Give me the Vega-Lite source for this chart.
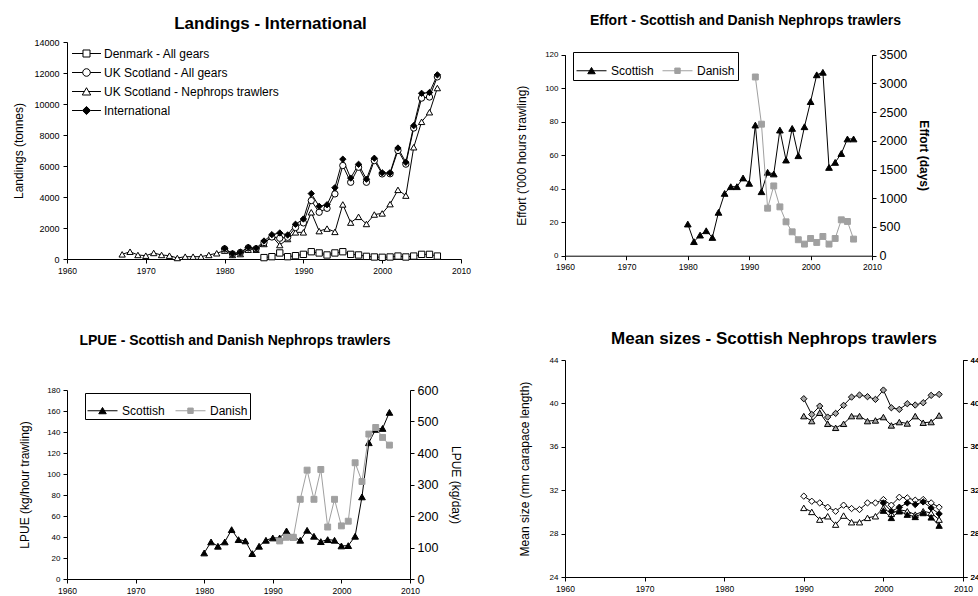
{
  "$schema": "https://vega.github.io/schema/vega-lite/v6.json",
  "background": "white",
  "padding": {"left": 12, "top": 14, "right": 0, "bottom": 0},
  "bounds": "full",
  "align": "none",
  "columns": 2,
  "spacing": 44,
  "resolve": {"scale": {"shape": "independent", "fill": "independent", "stroke": "independent"}, "legend": {"shape": "independent", "fill": "independent", "stroke": "independent"}},
  "config": {
    "font": "Liberation Sans",
    "view": {"stroke": null},
    "axis": {"domainColor": "black", "tickColor": "black", "labelColor": "black", "titleColor": "black", "grid": false, "labelFontSize": 8.5, "titleFontSize": 12, "titleFontWeight": "normal", "tickSize": 4, "labelFont": "Liberation Sans", "titleFont": "Liberation Sans", "domainWidth": 1, "tickWidth": 1, "labelFlush": false},
    "legend": {"labelFontSize": 12, "labelColor": "black", "labelFont": "Liberation Sans", "labelLimit": 300},
    "title": {"color": "black", "font": "Liberation Sans", "fontWeight": "bold", "anchor": "middle", "frame": "group"}
  },
  "datasets": {
    "landings": [
      {"series": "UK Scotland - Nephrops trawlers", "year": 1967, "value": 300},
      {"series": "UK Scotland - Nephrops trawlers", "year": 1968, "value": 470},
      {"series": "UK Scotland - Nephrops trawlers", "year": 1969, "value": 260},
      {"series": "UK Scotland - Nephrops trawlers", "year": 1970, "value": 215},
      {"series": "UK Scotland - Nephrops trawlers", "year": 1971, "value": 390},
      {"series": "UK Scotland - Nephrops trawlers", "year": 1972, "value": 260},
      {"series": "UK Scotland - Nephrops trawlers", "year": 1973, "value": 215},
      {"series": "UK Scotland - Nephrops trawlers", "year": 1974, "value": 65},
      {"series": "UK Scotland - Nephrops trawlers", "year": 1975, "value": 150},
      {"series": "UK Scotland - Nephrops trawlers", "year": 1976, "value": 150},
      {"series": "UK Scotland - Nephrops trawlers", "year": 1977, "value": 150},
      {"series": "UK Scotland - Nephrops trawlers", "year": 1978, "value": 260},
      {"series": "UK Scotland - Nephrops trawlers", "year": 1979, "value": 370},
      {"series": "UK Scotland - Nephrops trawlers", "year": 1980, "value": 540},
      {"series": "UK Scotland - Nephrops trawlers", "year": 1981, "value": 260},
      {"series": "UK Scotland - Nephrops trawlers", "year": 1982, "value": 320},
      {"series": "UK Scotland - Nephrops trawlers", "year": 1983, "value": 600},
      {"series": "UK Scotland - Nephrops trawlers", "year": 1984, "value": 600},
      {"series": "UK Scotland - Nephrops trawlers", "year": 1985, "value": 970},
      {"series": "UK Scotland - Nephrops trawlers", "year": 1986, "value": 1460},
      {"series": "UK Scotland - Nephrops trawlers", "year": 1987, "value": 900},
      {"series": "UK Scotland - Nephrops trawlers", "year": 1988, "value": 1290},
      {"series": "UK Scotland - Nephrops trawlers", "year": 1989, "value": 1720},
      {"series": "UK Scotland - Nephrops trawlers", "year": 1990, "value": 1720},
      {"series": "UK Scotland - Nephrops trawlers", "year": 1991, "value": 3015},
      {"series": "UK Scotland - Nephrops trawlers", "year": 1992, "value": 1800},
      {"series": "UK Scotland - Nephrops trawlers", "year": 1993, "value": 1960},
      {"series": "UK Scotland - Nephrops trawlers", "year": 1994, "value": 1750},
      {"series": "UK Scotland - Nephrops trawlers", "year": 1995, "value": 3520},
      {"series": "UK Scotland - Nephrops trawlers", "year": 1996, "value": 2350},
      {"series": "UK Scotland - Nephrops trawlers", "year": 1997, "value": 2720},
      {"series": "UK Scotland - Nephrops trawlers", "year": 1998, "value": 2260},
      {"series": "UK Scotland - Nephrops trawlers", "year": 1999, "value": 2870},
      {"series": "UK Scotland - Nephrops trawlers", "year": 2000, "value": 2940},
      {"series": "UK Scotland - Nephrops trawlers", "year": 2001, "value": 3540},
      {"series": "UK Scotland - Nephrops trawlers", "year": 2002, "value": 4460},
      {"series": "UK Scotland - Nephrops trawlers", "year": 2003, "value": 4090},
      {"series": "UK Scotland - Nephrops trawlers", "year": 2004, "value": 7210},
      {"series": "UK Scotland - Nephrops trawlers", "year": 2005, "value": 8850},
      {"series": "UK Scotland - Nephrops trawlers", "year": 2006, "value": 9470},
      {"series": "UK Scotland - Nephrops trawlers", "year": 2007, "value": 11030},
      {"series": "Denmark - All gears", "year": 1985, "value": 90},
      {"series": "Denmark - All gears", "year": 1986, "value": 150},
      {"series": "Denmark - All gears", "year": 1987, "value": 390},
      {"series": "Denmark - All gears", "year": 1988, "value": 150},
      {"series": "Denmark - All gears", "year": 1989, "value": 215},
      {"series": "Denmark - All gears", "year": 1990, "value": 300},
      {"series": "Denmark - All gears", "year": 1991, "value": 470},
      {"series": "Denmark - All gears", "year": 1992, "value": 390},
      {"series": "Denmark - All gears", "year": 1993, "value": 260},
      {"series": "Denmark - All gears", "year": 1994, "value": 390},
      {"series": "Denmark - All gears", "year": 1995, "value": 470},
      {"series": "Denmark - All gears", "year": 1996, "value": 300},
      {"series": "Denmark - All gears", "year": 1997, "value": 260},
      {"series": "Denmark - All gears", "year": 1998, "value": 170},
      {"series": "Denmark - All gears", "year": 1999, "value": 130},
      {"series": "Denmark - All gears", "year": 2000, "value": 110},
      {"series": "Denmark - All gears", "year": 2001, "value": 130},
      {"series": "Denmark - All gears", "year": 2002, "value": 190},
      {"series": "Denmark - All gears", "year": 2003, "value": 130},
      {"series": "Denmark - All gears", "year": 2004, "value": 190},
      {"series": "Denmark - All gears", "year": 2005, "value": 300},
      {"series": "Denmark - All gears", "year": 2006, "value": 300},
      {"series": "Denmark - All gears", "year": 2007, "value": 190},
      {"series": "UK Scotland - All gears", "year": 1980, "value": 650},
      {"series": "UK Scotland - All gears", "year": 1981, "value": 330},
      {"series": "UK Scotland - All gears", "year": 1982, "value": 420},
      {"series": "UK Scotland - All gears", "year": 1983, "value": 720},
      {"series": "UK Scotland - All gears", "year": 1984, "value": 660},
      {"series": "UK Scotland - All gears", "year": 1985, "value": 1060},
      {"series": "UK Scotland - All gears", "year": 1986, "value": 1420},
      {"series": "UK Scotland - All gears", "year": 1987, "value": 1340},
      {"series": "UK Scotland - All gears", "year": 1988, "value": 1400},
      {"series": "UK Scotland - All gears", "year": 1989, "value": 2030},
      {"series": "UK Scotland - All gears", "year": 1990, "value": 2330},
      {"series": "UK Scotland - All gears", "year": 1991, "value": 3770},
      {"series": "UK Scotland - All gears", "year": 1992, "value": 3015},
      {"series": "UK Scotland - All gears", "year": 1993, "value": 3270},
      {"series": "UK Scotland - All gears", "year": 1994, "value": 4200},
      {"series": "UK Scotland - All gears", "year": 1995, "value": 6030},
      {"series": "UK Scotland - All gears", "year": 1996, "value": 4950},
      {"series": "UK Scotland - All gears", "year": 1997, "value": 5920},
      {"series": "UK Scotland - All gears", "year": 1998, "value": 4950},
      {"series": "UK Scotland - All gears", "year": 1999, "value": 6350},
      {"series": "UK Scotland - All gears", "year": 2000, "value": 5490},
      {"series": "UK Scotland - All gears", "year": 2001, "value": 5500},
      {"series": "UK Scotland - All gears", "year": 2002, "value": 7000},
      {"series": "UK Scotland - All gears", "year": 2003, "value": 6120},
      {"series": "UK Scotland - All gears", "year": 2004, "value": 8450},
      {"series": "UK Scotland - All gears", "year": 2005, "value": 10380},
      {"series": "UK Scotland - All gears", "year": 2006, "value": 10450},
      {"series": "UK Scotland - All gears", "year": 2007, "value": 11750},
      {"series": "International", "year": 1980, "value": 690},
      {"series": "International", "year": 1981, "value": 340},
      {"series": "International", "year": 1982, "value": 440},
      {"series": "International", "year": 1983, "value": 750},
      {"series": "International", "year": 1984, "value": 690},
      {"series": "International", "year": 1985, "value": 1160},
      {"series": "International", "year": 1986, "value": 1570},
      {"series": "International", "year": 1987, "value": 1680},
      {"series": "International", "year": 1988, "value": 1550},
      {"series": "International", "year": 1989, "value": 2240},
      {"series": "International", "year": 1990, "value": 2580},
      {"series": "International", "year": 1991, "value": 4220},
      {"series": "International", "year": 1992, "value": 3400},
      {"series": "International", "year": 1993, "value": 3500},
      {"series": "International", "year": 1994, "value": 4600},
      {"series": "International", "year": 1995, "value": 6440},
      {"series": "International", "year": 1996, "value": 5220},
      {"series": "International", "year": 1997, "value": 6110},
      {"series": "International", "year": 1998, "value": 5150},
      {"series": "International", "year": 1999, "value": 6500},
      {"series": "International", "year": 2000, "value": 5560},
      {"series": "International", "year": 2001, "value": 5560},
      {"series": "International", "year": 2002, "value": 7160},
      {"series": "International", "year": 2003, "value": 6240},
      {"series": "International", "year": 2004, "value": 8600},
      {"series": "International", "year": 2005, "value": 10690},
      {"series": "International", "year": 2006, "value": 10740},
      {"series": "International", "year": 2007, "value": 11880}
    ],
    "effort_scot": [
      {"series": "Scottish", "year": 1980, "value": 18.9},
      {"series": "Scottish", "year": 1981, "value": 8.4},
      {"series": "Scottish", "year": 1982, "value": 12.3},
      {"series": "Scottish", "year": 1983, "value": 14.9},
      {"series": "Scottish", "year": 1984, "value": 10.9},
      {"series": "Scottish", "year": 1985, "value": 25.9},
      {"series": "Scottish", "year": 1986, "value": 37.2},
      {"series": "Scottish", "year": 1987, "value": 41.2},
      {"series": "Scottish", "year": 1988, "value": 41.2},
      {"series": "Scottish", "year": 1989, "value": 46.4},
      {"series": "Scottish", "year": 1990, "value": 43.2},
      {"series": "Scottish", "year": 1991, "value": 78},
      {"series": "Scottish", "year": 1992, "value": 38.2},
      {"series": "Scottish", "year": 1993, "value": 49.8},
      {"series": "Scottish", "year": 1994, "value": 48.8},
      {"series": "Scottish", "year": 1995, "value": 75},
      {"series": "Scottish", "year": 1996, "value": 57.1},
      {"series": "Scottish", "year": 1997, "value": 76},
      {"series": "Scottish", "year": 1998, "value": 59.7},
      {"series": "Scottish", "year": 1999, "value": 77},
      {"series": "Scottish", "year": 2000, "value": 92},
      {"series": "Scottish", "year": 2001, "value": 108},
      {"series": "Scottish", "year": 2002, "value": 109.5},
      {"series": "Scottish", "year": 2003, "value": 52.7},
      {"series": "Scottish", "year": 2004, "value": 55.7},
      {"series": "Scottish", "year": 2005, "value": 61},
      {"series": "Scottish", "year": 2006, "value": 69.7},
      {"series": "Scottish", "year": 2007, "value": 69.7}
    ],
    "effort_dan": [
      {"series": "Danish", "year": 1991, "value": 3112},
      {"series": "Danish", "year": 1992, "value": 2290},
      {"series": "Danish", "year": 1993, "value": 827},
      {"series": "Danish", "year": 1994, "value": 1215},
      {"series": "Danish", "year": 1995, "value": 850},
      {"series": "Danish", "year": 1996, "value": 590},
      {"series": "Danish", "year": 1997, "value": 416},
      {"series": "Danish", "year": 1998, "value": 278},
      {"series": "Danish", "year": 1999, "value": 202},
      {"series": "Danish", "year": 2000, "value": 300},
      {"series": "Danish", "year": 2001, "value": 231},
      {"series": "Danish", "year": 2002, "value": 335},
      {"series": "Danish", "year": 2003, "value": 202},
      {"series": "Danish", "year": 2004, "value": 300},
      {"series": "Danish", "year": 2005, "value": 625},
      {"series": "Danish", "year": 2006, "value": 596},
      {"series": "Danish", "year": 2007, "value": 289}
    ],
    "lpue_scot": [
      {"series": "Scottish", "year": 1980, "value": 24.8},
      {"series": "Scottish", "year": 1981, "value": 35.3},
      {"series": "Scottish", "year": 1982, "value": 31.2},
      {"series": "Scottish", "year": 1983, "value": 35.3},
      {"series": "Scottish", "year": 1984, "value": 47},
      {"series": "Scottish", "year": 1985, "value": 37.5},
      {"series": "Scottish", "year": 1986, "value": 36.3},
      {"series": "Scottish", "year": 1987, "value": 24.2},
      {"series": "Scottish", "year": 1988, "value": 31.2},
      {"series": "Scottish", "year": 1989, "value": 36.9},
      {"series": "Scottish", "year": 1990, "value": 39.1},
      {"series": "Scottish", "year": 1991, "value": 39.1},
      {"series": "Scottish", "year": 1992, "value": 45.8},
      {"series": "Scottish", "year": 1993, "value": 40},
      {"series": "Scottish", "year": 1994, "value": 36.9},
      {"series": "Scottish", "year": 1995, "value": 46.4},
      {"series": "Scottish", "year": 1996, "value": 40.7},
      {"series": "Scottish", "year": 1997, "value": 35.6},
      {"series": "Scottish", "year": 1998, "value": 37.5},
      {"series": "Scottish", "year": 1999, "value": 36.9},
      {"series": "Scottish", "year": 2000, "value": 31.5},
      {"series": "Scottish", "year": 2001, "value": 31.8},
      {"series": "Scottish", "year": 2002, "value": 40.7},
      {"series": "Scottish", "year": 2003, "value": 78.2},
      {"series": "Scottish", "year": 2004, "value": 129.8},
      {"series": "Scottish", "year": 2005, "value": 142.5},
      {"series": "Scottish", "year": 2006, "value": 143.4},
      {"series": "Scottish", "year": 2007, "value": 158.7}
    ],
    "lpue_dan": [
      {"series": "Danish", "year": 1991, "value": 120.8},
      {"series": "Danish", "year": 1992, "value": 132.5},
      {"series": "Danish", "year": 1993, "value": 132.5},
      {"series": "Danish", "year": 1994, "value": 253},
      {"series": "Danish", "year": 1995, "value": 345.6},
      {"series": "Danish", "year": 1996, "value": 253},
      {"series": "Danish", "year": 1997, "value": 347.7},
      {"series": "Danish", "year": 1998, "value": 165},
      {"series": "Danish", "year": 1999, "value": 253},
      {"series": "Danish", "year": 2000, "value": 168.6},
      {"series": "Danish", "year": 2001, "value": 183.4},
      {"series": "Danish", "year": 2002, "value": 369},
      {"series": "Danish", "year": 2003, "value": 309.5},
      {"series": "Danish", "year": 2004, "value": 460},
      {"series": "Danish", "year": 2005, "value": 481},
      {"series": "Danish", "year": 2006, "value": 449.5},
      {"series": "Danish", "year": 2007, "value": 425}
    ],
    "sizes": [
      {"series": "Landings Mal > 35", "year": 1990, "value": 40.43},
      {"series": "Landings Mal > 35", "year": 1991, "value": 38.98},
      {"series": "Landings Mal > 35", "year": 1992, "value": 39.75},
      {"series": "Landings Mal > 35", "year": 1993, "value": 38.74},
      {"series": "Landings Mal > 35", "year": 1994, "value": 39.08},
      {"series": "Landings Mal > 35", "year": 1995, "value": 39.82},
      {"series": "Landings Mal > 35", "year": 1996, "value": 40.58},
      {"series": "Landings Mal > 35", "year": 1997, "value": 40.77},
      {"series": "Landings Mal > 35", "year": 1998, "value": 40.62},
      {"series": "Landings Mal > 35", "year": 1999, "value": 40.37},
      {"series": "Landings Mal > 35", "year": 2000, "value": 41.23},
      {"series": "Landings Mal > 35", "year": 2001, "value": 39.6},
      {"series": "Landings Mal > 35", "year": 2002, "value": 39.45},
      {"series": "Landings Mal > 35", "year": 2003, "value": 39.97},
      {"series": "Landings Mal > 35", "year": 2004, "value": 39.85},
      {"series": "Landings Mal > 35", "year": 2005, "value": 40.06},
      {"series": "Landings Mal > 35", "year": 2006, "value": 40.74},
      {"series": "Landings Mal > 35", "year": 2007, "value": 40.83},
      {"series": "Landings Fem > 35", "year": 1990, "value": 38.83},
      {"series": "Landings Fem > 35", "year": 1991, "value": 38.37},
      {"series": "Landings Fem > 35", "year": 1992, "value": 39.14},
      {"series": "Landings Fem > 35", "year": 1993, "value": 38.12},
      {"series": "Landings Fem > 35", "year": 1994, "value": 37.75},
      {"series": "Landings Fem > 35", "year": 1995, "value": 38.12},
      {"series": "Landings Fem > 35", "year": 1996, "value": 38.83},
      {"series": "Landings Fem > 35", "year": 1997, "value": 38.83},
      {"series": "Landings Fem > 35", "year": 1998, "value": 38.37},
      {"series": "Landings Fem > 35", "year": 1999, "value": 38.43},
      {"series": "Landings Fem > 35", "year": 2000, "value": 38.74},
      {"series": "Landings Fem > 35", "year": 2001, "value": 37.97},
      {"series": "Landings Fem > 35", "year": 2002, "value": 38.28},
      {"series": "Landings Fem > 35", "year": 2003, "value": 38.15},
      {"series": "Landings Fem > 35", "year": 2004, "value": 38.83},
      {"series": "Landings Fem > 35", "year": 2005, "value": 38.22},
      {"series": "Landings Fem > 35", "year": 2006, "value": 38.28},
      {"series": "Landings Fem > 35", "year": 2007, "value": 38.89},
      {"series": "Landings Mal < 35", "year": 1990, "value": 31.45},
      {"series": "Landings Mal < 35", "year": 1991, "value": 30.98},
      {"series": "Landings Mal < 35", "year": 1992, "value": 30.83},
      {"series": "Landings Mal < 35", "year": 1993, "value": 30.43},
      {"series": "Landings Mal < 35", "year": 1994, "value": 30.06},
      {"series": "Landings Mal < 35", "year": 1995, "value": 30.62},
      {"series": "Landings Mal < 35", "year": 1996, "value": 30.31},
      {"series": "Landings Mal < 35", "year": 1997, "value": 30.22},
      {"series": "Landings Mal < 35", "year": 1998, "value": 30.83},
      {"series": "Landings Mal < 35", "year": 1999, "value": 30.83},
      {"series": "Landings Mal < 35", "year": 2000, "value": 31.14},
      {"series": "Landings Mal < 35", "year": 2001, "value": 30.62},
      {"series": "Landings Mal < 35", "year": 2002, "value": 31.35},
      {"series": "Landings Mal < 35", "year": 2003, "value": 31.29},
      {"series": "Landings Mal < 35", "year": 2004, "value": 31.08},
      {"series": "Landings Mal < 35", "year": 2005, "value": 31.14},
      {"series": "Landings Mal < 35", "year": 2006, "value": 30.83},
      {"series": "Landings Mal < 35", "year": 2007, "value": 30.43},
      {"series": "Landings Fem < 35", "year": 1990, "value": 30.37},
      {"series": "Landings Fem < 35", "year": 1991, "value": 30.0},
      {"series": "Landings Fem < 35", "year": 1992, "value": 29.29},
      {"series": "Landings Fem < 35", "year": 1993, "value": 29.6},
      {"series": "Landings Fem < 35", "year": 1994, "value": 28.83},
      {"series": "Landings Fem < 35", "year": 1995, "value": 29.66},
      {"series": "Landings Fem < 35", "year": 1996, "value": 29.05},
      {"series": "Landings Fem < 35", "year": 1997, "value": 29.05},
      {"series": "Landings Fem < 35", "year": 1998, "value": 29.45},
      {"series": "Landings Fem < 35", "year": 1999, "value": 29.6},
      {"series": "Landings Fem < 35", "year": 2000, "value": 30.37},
      {"series": "Landings Fem < 35", "year": 2001, "value": 29.82},
      {"series": "Landings Fem < 35", "year": 2002, "value": 30.2},
      {"series": "Landings Fem < 35", "year": 2003, "value": 30.06},
      {"series": "Landings Fem < 35", "year": 2004, "value": 29.75},
      {"series": "Landings Fem < 35", "year": 2005, "value": 30.06},
      {"series": "Landings Fem < 35", "year": 2006, "value": 29.9},
      {"series": "Landings Fem < 35", "year": 2007, "value": 29.29},
      {"series": "Catch Mal < 35 mm CL", "year": 2000, "value": 30.83},
      {"series": "Catch Mal < 35 mm CL", "year": 2001, "value": 30.06},
      {"series": "Catch Mal < 35 mm CL", "year": 2002, "value": 30.43},
      {"series": "Catch Mal < 35 mm CL", "year": 2003, "value": 30.83},
      {"series": "Catch Mal < 35 mm CL", "year": 2004, "value": 30.68},
      {"series": "Catch Mal < 35 mm CL", "year": 2005, "value": 30.92},
      {"series": "Catch Mal < 35 mm CL", "year": 2006, "value": 30.37},
      {"series": "Catch Mal < 35 mm CL", "year": 2007, "value": 29.82},
      {"series": "Catch Fem < 35", "year": 2000, "value": 30.12},
      {"series": "Catch Fem < 35", "year": 2001, "value": 29.45},
      {"series": "Catch Fem < 35", "year": 2002, "value": 30.06},
      {"series": "Catch Fem < 35", "year": 2003, "value": 29.75},
      {"series": "Catch Fem < 35", "year": 2004, "value": 29.54},
      {"series": "Catch Fem < 35", "year": 2005, "value": 29.9},
      {"series": "Catch Fem < 35", "year": 2006, "value": 29.5},
      {"series": "Catch Fem < 35", "year": 2007, "value": 28.74}
    ]
  },
  "concat": [
    {
      "spacing": 59,
      "resolve": {"scale": {"shape": "independent", "fill": "independent", "stroke": "independent"}, "legend": {"shape": "independent", "fill": "independent", "stroke": "independent"}},
      "vconcat": [
        {
          "width": 394,
          "height": 217,
          "title": {"text": "Landings - International", "fontSize": 17, "offset": 5, "dx": 6.5},
          "data": {"name": "landings"},
          "encoding": {
            "x": {"field": "year", "type": "quantitative", "scale": {"domain": [1960, 2010], "nice": false, "zero": false}, "axis": {"values": [1960, 1970, 1980, 1990, 2000, 2010], "format": "d", "title": null, "labelPadding": 3}},
            "y": {"field": "value", "type": "quantitative", "scale": {"domain": [0, 14000], "nice": false}, "axis": {"values": [0, 2000, 4000, 6000, 8000, 10000, 12000, 14000], "format": "d", "title": "Landings (tonnes)", "labelFontSize": 9, "labelPadding": 4, "titlePadding": 8}}
          },
          "layer": [
            {"mark": {"type": "line", "stroke": "black", "strokeWidth": 1}, "encoding": {"detail": {"field": "series", "type": "nominal"}}},
            {
              "mark": {"type": "point", "size": 40, "filled": true, "stroke": "black", "strokeWidth": 1, "opacity": 1},
              "encoding": {
                "shape": {"field": "series", "type": "nominal", "scale": {"domain": ["Denmark - All gears", "UK Scotland - All gears", "UK Scotland - Nephrops trawlers", "International"], "range": ["square", "circle", "triangle-up", "diamond"]}, "legend": null},
                "fill": {"field": "series", "type": "nominal", "scale": {"domain": ["Denmark - All gears", "UK Scotland - All gears", "UK Scotland - Nephrops trawlers", "International"], "range": ["white", "white", "white", "black"]}, "legend": null}
              }
            },
            {
              "data": {"values": []},
              "mark": {"type": "point", "filled": true, "strokeWidth": 1, "opacity": 1},
              "encoding": {
                "shape": {"field": "series", "type": "nominal", "scale": {"domain": ["Denmark - All gears", "UK Scotland - All gears", "UK Scotland - Nephrops trawlers", "International"], "range": ["M-1.21,0H-0.293M0.293,0H1.21M-0.293,-0.293H0.293V0.293H-0.293Z", "M-1.21,0H-0.317M0.317,0H1.21M-0.317,0A0.317,0.317,0,1,1,0.317,0A0.317,0.317,0,1,1,-0.317,0Z", "M-1.21,0H-0.182M0.182,0H1.21M0,-0.317L0.351,0.293H-0.351Z", "M-1.21,0H-0.34M0.34,0H1.21M0,-0.34L0.34,0L0,0.34L-0.34,0Z"]},
                  "legend": {"title": null, "orient": "top-left", "offset": -1, "padding": 0, "symbolOffset": 8, "symbolSize": 572, "symbolStrokeWidth": 1, "labelFontSize": 12, "rowPadding": 0, "labelOffset": 5}},
                "fill": {"field": "series", "type": "nominal", "scale": {"domain": ["Denmark - All gears", "UK Scotland - All gears", "UK Scotland - Nephrops trawlers", "International"], "range": ["white", "white", "white", "black"]},
                  "legend": {"title": null, "orient": "top-left", "offset": -1, "padding": 0, "symbolOffset": 8, "symbolSize": 572, "symbolStrokeWidth": 1, "labelFontSize": 12, "rowPadding": 0, "labelOffset": 5}},
                "stroke": {"field": "series", "type": "nominal", "scale": {"domain": ["Denmark - All gears", "UK Scotland - All gears", "UK Scotland - Nephrops trawlers", "International"], "range": ["black", "black", "black", "black"]},
                  "legend": {"title": null, "orient": "top-left", "offset": -1, "padding": 0, "symbolOffset": 8, "symbolSize": 572, "symbolStrokeWidth": 1, "labelFontSize": 12, "rowPadding": 0, "labelOffset": 5}}
              }
            }
          ],
          "resolve": {"scale": {"shape": "independent", "fill": "independent", "stroke": "independent"}}
        },
        {
          "width": 343,
          "height": 189,
          "title": {"text": "LPUE - Scottish and Danish Nephrops trawlers", "fontSize": 14, "offset": 36, "dx": -3.5},
          "layer": [
            {
              "data": {"name": "lpue_scot"},
              "encoding": {
                "x": {"field": "year", "type": "quantitative", "scale": {"domain": [1960, 2010], "nice": false, "zero": false}, "axis": {"values": [1960, 1970, 1980, 1990, 2000, 2010], "format": "d", "title": null, "labelPadding": 3}},
                "y": {"field": "value", "type": "quantitative", "scale": {"domain": [0, 180], "nice": false}, "axis": {"values": [0, 20, 40, 60, 80, 100, 120, 140, 160, 180], "title": "LPUE (kg/hour trawling)", "labelFontSize": 8, "labelPadding": 3, "titlePadding": 15}}
              },
              "layer": [
                {"mark": {"type": "line", "stroke": "black", "strokeWidth": 1}, "encoding": {}},
                {"mark": {"type": "point", "shape": "triangle-up", "size": 45, "filled": true, "fill": "black", "stroke": "black", "strokeWidth": 1, "opacity": 1}, "encoding": {}}
              ]
            },
            {
              "data": {"name": "lpue_dan"},
              "encoding": {
                "x": {"field": "year", "type": "quantitative", "scale": {"domain": [1960, 2010], "nice": false, "zero": false}, "axis": {"values": [1960, 1970, 1980, 1990, 2000, 2010], "format": "d", "title": null, "labelPadding": 3}},
                "y": {"field": "value", "type": "quantitative", "scale": {"domain": [0, 600], "nice": false}, "axis": {"orient": "right", "values": [0, 100, 200, 300, 400, 500, 600], "title": "LPUE (kg/day)", "labelFontSize": 12.5, "labelPadding": 3, "titlePadding": 11}}
              },
              "layer": [
                {"mark": {"type": "line", "stroke": "#a0a0a0", "strokeWidth": 1}, "encoding": {}},
                {"mark": {"type": "point", "shape": "square", "size": 35, "filled": true, "fill": "#a0a0a0", "stroke": "#a0a0a0", "strokeWidth": 1, "opacity": 1}, "encoding": {}},
                {
                  "data": {"values": []},
                  "mark": {"type": "point", "filled": true, "strokeWidth": 1, "opacity": 1},
                  "encoding": {
                    "shape": {"field": "series", "type": "nominal", "scale": {"domain": ["Scottish", "Danish"], "range": ["M-1,0H1M0,-0.22L0.25,0.2H-0.25Z", "M-1,0H1M-0.18,-0.18H0.18V0.18H-0.18Z"]}, "legend": {"title": null, "orient": "none", "legendX": 18, "legendY": 3, "direction": "horizontal", "strokeColor": "black", "fillColor": "white", "padding": 2, "symbolSize": 900, "symbolStrokeWidth": 1, "labelFontSize": 12, "columnPadding": 8, "labelOffset": 4}},
                    "fill": {"field": "series", "type": "nominal", "scale": {"domain": ["Scottish", "Danish"], "range": ["black", "#a0a0a0"]}, "legend": {"title": null, "orient": "none", "legendX": 18, "legendY": 3, "direction": "horizontal", "strokeColor": "black", "fillColor": "white", "padding": 2, "symbolSize": 900, "symbolStrokeWidth": 1, "labelFontSize": 12, "columnPadding": 8, "labelOffset": 4}},
                    "stroke": {"field": "series", "type": "nominal", "scale": {"domain": ["Scottish", "Danish"], "range": ["black", "#a0a0a0"]}, "legend": {"title": null, "orient": "none", "legendX": 18, "legendY": 3, "direction": "horizontal", "strokeColor": "black", "fillColor": "white", "padding": 2, "symbolSize": 900, "symbolStrokeWidth": 1, "labelFontSize": 12, "columnPadding": 8, "labelOffset": 4}}
                  }
                }
              ]
            }
          ],
          "resolve": {"scale": {"y": "independent"}}
        }
      ]
    },
    {
      "spacing": 58,
      "resolve": {"scale": {"shape": "independent", "fill": "independent", "stroke": "independent"}, "legend": {"shape": "independent", "fill": "independent", "stroke": "independent"}},
      "vconcat": [
        {
          "width": 307,
          "height": 213.7,
          "title": {"text": "Effort - Scottish and Danish Nephrops trawlers", "fontSize": 14, "offset": 14, "dx": 27},
          "layer": [
            {
              "data": {"name": "effort_scot"},
              "encoding": {
                "x": {"field": "year", "type": "quantitative", "scale": {"domain": [1960, 2010], "nice": false, "zero": false}, "axis": {"values": [1960, 1970, 1980, 1990, 2000, 2010], "format": "d", "title": null, "labelPadding": 3}},
                "y": {"field": "value", "type": "quantitative", "scale": {"domain": [0, 120], "nice": false, "range": [213.7, 12.7]}, "axis": {"values": [0, 20, 40, 60, 80, 100, 120], "title": "Effort ('000 hours trawling)", "labelFontSize": 8, "labelPadding": 3, "titlePadding": 16}}
              },
              "layer": [
                {"mark": {"type": "line", "stroke": "black", "strokeWidth": 1}, "encoding": {}},
                {"mark": {"type": "point", "shape": "triangle-up", "size": 45, "filled": true, "fill": "black", "stroke": "black", "strokeWidth": 1, "opacity": 1}, "encoding": {}}
              ]
            },
            {
              "data": {"name": "effort_dan"},
              "encoding": {
                "x": {"field": "year", "type": "quantitative", "scale": {"domain": [1960, 2010], "nice": false, "zero": false}, "axis": {"values": [1960, 1970, 1980, 1990, 2000, 2010], "format": "d", "title": null, "labelPadding": 3}},
                "y": {"field": "value", "type": "quantitative", "scale": {"domain": [0, 3500], "nice": false, "range": [213.7, 12.7]}, "axis": {"orient": "right", "values": [0, 500, 1000, 1500, 2000, 2500, 3000, 3500], "format": "d", "title": "Effort (days)", "titleFontWeight": "bold", "labelFontSize": 12.5, "labelPadding": 3, "titlePadding": 10}}
              },
              "layer": [
                {"mark": {"type": "line", "stroke": "#a0a0a0", "strokeWidth": 1}, "encoding": {}},
                {"mark": {"type": "point", "shape": "square", "size": 35, "filled": true, "fill": "#a0a0a0", "stroke": "#a0a0a0", "strokeWidth": 1, "opacity": 1}, "encoding": {}},
                {
                  "data": {"values": []},
                  "mark": {"type": "point", "filled": true, "strokeWidth": 1, "opacity": 1},
                  "encoding": {
                    "shape": {"field": "series", "type": "nominal", "scale": {"domain": ["Scottish", "Danish"], "range": ["M-1,0H1M0,-0.22L0.25,0.2H-0.25Z", "M-1,0H1M-0.18,-0.18H0.18V0.18H-0.18Z"]}, "legend": {"title": null, "orient": "none", "legendX": 8, "legendY": 10, "direction": "horizontal", "strokeColor": "black", "fillColor": "white", "padding": 3, "symbolSize": 900, "symbolStrokeWidth": 1, "labelFontSize": 12, "columnPadding": 6, "labelOffset": 4}},
                    "fill": {"field": "series", "type": "nominal", "scale": {"domain": ["Scottish", "Danish"], "range": ["black", "#a0a0a0"]}, "legend": {"title": null, "orient": "none", "legendX": 8, "legendY": 10, "direction": "horizontal", "strokeColor": "black", "fillColor": "white", "padding": 3, "symbolSize": 900, "symbolStrokeWidth": 1, "labelFontSize": 12, "columnPadding": 6, "labelOffset": 4}},
                    "stroke": {"field": "series", "type": "nominal", "scale": {"domain": ["Scottish", "Danish"], "range": ["black", "#a0a0a0"]}, "legend": {"title": null, "orient": "none", "legendX": 8, "legendY": 10, "direction": "horizontal", "strokeColor": "black", "fillColor": "white", "padding": 3, "symbolSize": 900, "symbolStrokeWidth": 1, "labelFontSize": 12, "columnPadding": 6, "labelOffset": 4}}
                  }
                }
              ]
            }
          ],
          "resolve": {"scale": {"y": "independent"}}
        },
        {
          "width": 398,
          "height": 217,
          "title": {"text": "Mean sizes - Scottish Nephrops trawlers", "fontSize": 17, "offset": 8, "dx": 10},
          "data": {"name": "sizes"},
          "encoding": {
            "x": {"field": "year", "type": "quantitative", "scale": {"domain": [1960, 2010], "nice": false, "zero": false}, "axis": {"values": [1960, 1970, 1980, 1990, 2000, 2010], "format": "d", "title": null, "labelPadding": 3}},
            "y": {"field": "value", "type": "quantitative", "scale": {"domain": [24, 44], "nice": false, "zero": false}, "axis": {"values": [24, 28, 32, 36, 40, 44], "title": "Mean size (mm carapace length)", "labelFontSize": 8, "labelPadding": 3, "titlePadding": 18}}
          },
          "layer": [
            {"mark": {"type": "line", "stroke": "black", "strokeWidth": 1}, "encoding": {"detail": {"field": "series", "type": "nominal"}}},
            {
              "mark": {"type": "point", "size": 40, "filled": true, "stroke": "black", "strokeWidth": 1, "opacity": 1},
              "encoding": {
                "shape": {"field": "series", "type": "nominal", "scale": {"domain": ["Catch Mal < 35 mm CL", "Catch Fem < 35", "Landings Mal < 35", "Landings Fem < 35", "Landings Mal > 35", "Landings Fem > 35"], "range": ["diamond", "triangle-up", "diamond", "triangle-up", "diamond", "triangle-up"]}, "legend": null},
                "fill": {"field": "series", "type": "nominal", "scale": {"domain": ["Catch Mal < 35 mm CL", "Catch Fem < 35", "Landings Mal < 35", "Landings Fem < 35", "Landings Mal > 35", "Landings Fem > 35"], "range": ["black", "black", "white", "white", "#a6a6a6", "#a6a6a6"]}, "legend": null}
              }
            },
            {
              "data": {"values": []},
              "mark": {"type": "point", "filled": true, "strokeWidth": 1, "opacity": 1},
              "encoding": {
                "shape": {"field": "series", "type": "nominal", "scale": {"domain": ["Catch Mal < 35 mm CL", "Catch Fem < 35", "Landings Mal < 35", "Landings Fem < 35", "Landings Mal > 35", "Landings Fem > 35"], "range": ["M-1.21,0H-0.243M0.243,0H1.21M0,-0.243L0.243,0L0,0.243L-0.243,0Z", "M-1.21,0.036H-0.155M0.155,0.036H1.21M0,-0.23L0.268,0.23H-0.268Z", "M-1.21,0H-0.243M0.243,0H1.21M0,-0.243L0.243,0L0,0.243L-0.243,0Z", "M-1.21,0.036H-0.155M0.155,0.036H1.21M0,-0.23L0.268,0.23H-0.268Z", "M-1.21,0H-0.243M0.243,0H1.21M0,-0.243L0.243,0L0,0.243L-0.243,0Z", "M-1.21,0.036H-0.155M0.155,0.036H1.21M0,-0.23L0.268,0.23H-0.268Z"]},
                  "legend": {"title": null, "orient": "none", "legendX": 16, "legendY": 86, "symbolSize": 572, "symbolStrokeWidth": 1, "labelFontSize": 12, "rowPadding": 0, "labelOffset": 6}},
                "fill": {"field": "series", "type": "nominal", "scale": {"domain": ["Catch Mal < 35 mm CL", "Catch Fem < 35", "Landings Mal < 35", "Landings Fem < 35", "Landings Mal > 35", "Landings Fem > 35"], "range": ["black", "black", "white", "white", "#a6a6a6", "#a6a6a6"]},
                  "legend": {"title": null, "orient": "none", "legendX": 16, "legendY": 86, "symbolSize": 572, "symbolStrokeWidth": 1, "labelFontSize": 12, "rowPadding": 0, "labelOffset": 6}},
                "stroke": {"field": "series", "type": "nominal", "scale": {"domain": ["Catch Mal < 35 mm CL", "Catch Fem < 35", "Landings Mal < 35", "Landings Fem < 35", "Landings Mal > 35", "Landings Fem > 35"], "range": ["black", "black", "black", "black", "#444444", "#444444"]},
                  "legend": {"title": null, "orient": "none", "legendX": 16, "legendY": 86, "symbolSize": 572, "symbolStrokeWidth": 1, "labelFontSize": 12, "rowPadding": 0, "labelOffset": 6}}
              }
            }
          ],
          "resolve": {"scale": {"y": "independent"}}
        }
      ]
    }
  ]
}
